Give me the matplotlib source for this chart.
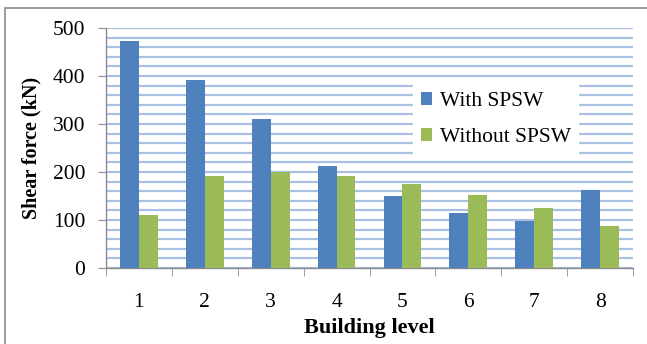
import matplotlib
matplotlib.use("Agg")
import matplotlib.pyplot as plt
import numpy as np
from matplotlib.patches import Rectangle
from matplotlib.ticker import MultipleLocator, FixedLocator, NullFormatter

levels = ["1", "2", "3", "4", "5", "6", "7", "8"]
with_spsw = [472, 392, 310, 212, 150, 115, 97, 162]
without_spsw = [110, 192, 200, 192, 176, 152, 124, 87]
series_names = ["With SPSW", "Without SPSW"]

plt.rcParams["font.family"] = ["Liberation Serif", "DejaVu Serif"]

W, H = 647, 344
fig = plt.figure(figsize=(W / 100, H / 100), dpi=100)
fig.patch.set_facecolor("white")

# outer chart frame (left and top edges visible)
fig.patches.append(Rectangle((5 / W, -0.1), 1.2, (H - 8) / H + 0.1,
                             transform=fig.transFigure, fill=False,
                             edgecolor="#8c8c8c", linewidth=1.2))

left, right, top, bottom = 106, 633, 28, 268
ax = fig.add_axes([left / W, 1 - bottom / H, (right - left) / W, (bottom - top) / H])

x = np.arange(1, len(levels) + 1)
bw = 1 / 3.5
ax.bar(x - bw / 2, with_spsw, bw, color="#4f81bd", label=series_names[0], zorder=3)
ax.bar(x + bw / 2, without_spsw, bw, color="#9bbb59", label=series_names[1], zorder=3)

ax.set_xlim(0.5, len(levels) + 0.5)
ax.set_ylim(0, 500)

ax.yaxis.set_major_locator(MultipleLocator(100))
ax.yaxis.set_minor_locator(MultipleLocator(20))
ax.grid(axis="y", which="both", color="#a9c0e4", linewidth=1.6, zorder=0)
ax.tick_params(axis="y", which="minor", length=0)
ax.tick_params(axis="y", which="major", length=6, color="#8c8c8c",
               labelsize=15.5, pad=9)

ax.xaxis.set_major_locator(FixedLocator(x))
ax.xaxis.set_minor_locator(FixedLocator(np.arange(0.5, len(levels) + 1, 1)))
ax.set_xticklabels(levels)
ax.xaxis.set_minor_formatter(NullFormatter())
ax.tick_params(axis="x", which="major", length=0, labelsize=15.5, pad=18)
ax.tick_params(axis="x", which="minor", length=6, color="#8c8c8c")

for s in ["top", "right"]:
    ax.spines[s].set_visible(False)
for s in ["left", "bottom"]:
    ax.spines[s].set_color("#8c8c8c")
    ax.spines[s].set_linewidth(1.0)

ax.set_ylabel("Shear force (kN)", fontsize=14.5, fontweight="bold", labelpad=8)
ax.set_xlabel("Building level", fontsize=16, fontweight="bold", labelpad=4)

leg = ax.legend(loc="upper left",
                bbox_to_anchor=((413 - left) / (right - left), 1 - (84 - top) / (bottom - top)),
                frameon=True, fontsize=15.5, handlelength=0.55, handleheight=0.55,
                handletextpad=0.35, borderpad=0.35, borderaxespad=0,
                labelspacing=0.8, fancybox=False)
leg.get_frame().set_edgecolor("white")
leg.get_frame().set_facecolor("white")
leg.get_frame().set_alpha(1)

fig.savefig("out.png", dpi=100)
